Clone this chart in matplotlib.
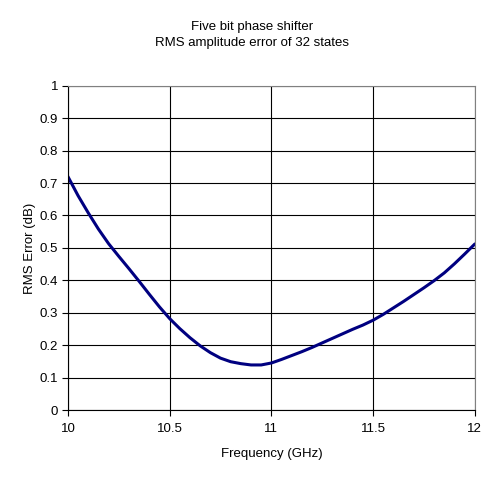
import matplotlib.pyplot as plt

plt.rcParams['font.family'] = ['Liberation Sans', 'DejaVu Sans']

# values
freq_ghz = [10.00, 10.05, 10.10, 10.15, 10.20, 10.25, 10.30, 10.35, 10.40, 10.45,
            10.50, 10.55, 10.60, 10.65, 10.70, 10.75, 10.80, 10.85, 10.90, 10.95,
            11.00, 11.05, 11.10, 11.15, 11.20, 11.25, 11.30, 11.35, 11.40, 11.45,
            11.50, 11.55, 11.60, 11.65, 11.70, 11.75, 11.80, 11.85, 11.90, 11.95,
            12.00]
rms_error_db = [0.720, 0.661, 0.608, 0.558, 0.513, 0.474, 0.436, 0.397, 0.357, 0.318,
                0.282, 0.251, 0.223, 0.198, 0.177, 0.160, 0.149, 0.143, 0.139, 0.139,
                0.145, 0.156, 0.168, 0.180, 0.193, 0.207, 0.221, 0.235, 0.249, 0.262,
                0.277, 0.295, 0.315, 0.335, 0.356, 0.377, 0.399, 0.423, 0.451, 0.481,
                0.512]

x_ticks = [10, 10.5, 11, 11.5, 12]
x_labels = ["10", "10.5", "11", "11.5", "12"]
y_ticks = [0, 0.1, 0.2, 0.3, 0.4, 0.5, 0.6, 0.7, 0.8, 0.9, 1]
y_labels = ["0", "0.1", "0.2", "0.3", "0.4", "0.5", "0.6", "0.7", "0.8", "0.9", "1"]

fig = plt.figure(figsize=(5.03, 4.79), dpi=100)
ax = fig.add_axes([0.135, 0.144, 0.809, 0.677])

ax.plot(freq_ghz, rms_error_db, color="#000080", linewidth=2.2,
        solid_capstyle="round", solid_joinstyle="round")

ax.set_xlim(10, 12)
ax.set_ylim(0, 1)
ax.set_xticks(x_ticks)
ax.set_xticklabels(x_labels)
ax.set_yticks(y_ticks)
ax.set_yticklabels(y_labels)
ax.grid(True, color="black", linewidth=0.8)
ax.set_axisbelow(True)

ax.tick_params(direction="out", length=4, width=0.8, labelsize=9.5, colors="black")
ax.tick_params(axis="x", pad=5)
ax.tick_params(axis="y", pad=3)
ax.spines["left"].set_color("black")
ax.spines["bottom"].set_color("black")
ax.spines["top"].set_color("#808080")
ax.spines["right"].set_color("#808080")

ax.set_xlabel("Frequency (GHz)", fontsize=9.5, labelpad=10)
ax.set_ylabel("RMS Error (dB)", fontsize=9.5, labelpad=3)
fig.text(0.501, 0.927, "Five bit phase shifter\nRMS amplitude error of 32 states",
         ha="center", va="center", fontsize=9.5, linespacing=1.45)

fig.savefig("out.png", dpi=100)
